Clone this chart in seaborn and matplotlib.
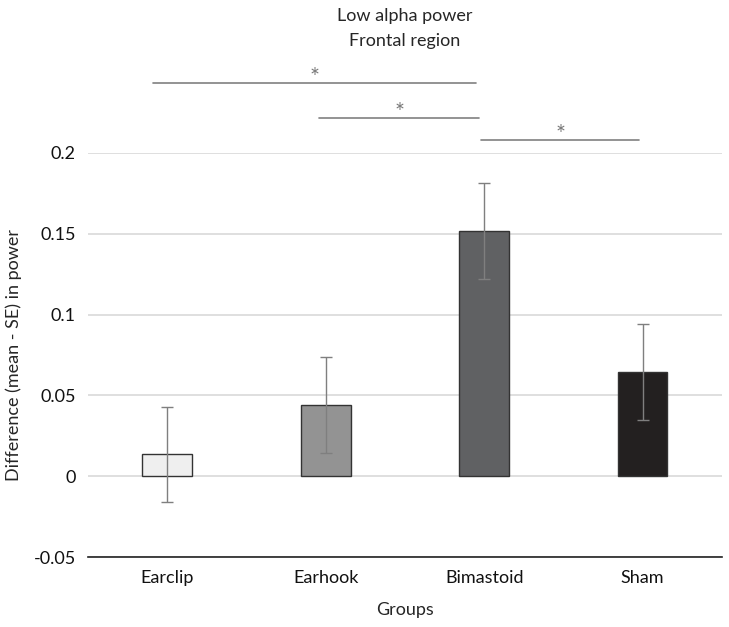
import matplotlib
matplotlib.use("Agg")
import matplotlib.pyplot as plt
import seaborn as sns
import pandas as pd

groups = ["Earclip", "Earhook", "Bimastoid", "Sham"]
means = [0.0135, 0.044, 0.152, 0.0645]
se = [0.0295, 0.0297, 0.0297, 0.0297]
colors = ["#efefef", "#939393", "#606163", "#231f20"]

# significance brackets: (from, to, height)
sig_from = [-0.09, 0.96, 1.98]
sig_to = [1.95, 1.97, 2.98]
sig_y = [0.2433, 0.2217, 0.2080]

sns.set_style("white")
plt.rcParams["font.family"] = ["Lato", "DejaVu Sans"]

df = pd.DataFrame({"group": groups, "mean": means})

fig = plt.figure(figsize=(7.29, 6.27), dpi=100)
ax = fig.add_axes([0.121, 0.1116, 0.869, 0.6445])

sns.barplot(data=df, x="group", y="mean", hue="group", palette=colors,
            width=0.315, edgecolor="#333333", linewidth=1.0, legend=False,
            ax=ax, zorder=3)
ax.errorbar(range(len(groups)), means, yerr=se, fmt="none",
            ecolor="#7f7f7f", elinewidth=1.0, capsize=4, capthick=1.0,
            zorder=4)

ax.set_ylim(-0.05, 0.2)
ax.set_xlim(-0.5, 3.5)
ax.set_yticks([-0.05, 0, 0.05, 0.1, 0.15, 0.2])
ax.set_yticklabels(["-0.05", "0", "0.05", "0.1", "0.15", "0.2"])
ax.yaxis.grid(True, color="#d9d9d9", linewidth=1.2, zorder=0)
ax.set_axisbelow(True)
for s in ["left", "right", "top"]:
    ax.spines[s].set_visible(False)
ax.spines["bottom"].set_color("#222222")
ax.spines["bottom"].set_linewidth(1.2)
ax.tick_params(axis="both", length=0, labelsize=13, colors="#111111", pad=9)

ax.set_xlabel("Groups", fontsize=13, labelpad=12)
ax.set_ylabel("Difference (mean - SE) in power", fontsize=13, labelpad=8)

for x0, x1, y in zip(sig_from, sig_to, sig_y):
    ax.plot([x0, x1], [y, y], color="#808080", linewidth=1.2, clip_on=False)
    ax.text((x0 + x1) / 2, y + 0.0035, "*", ha="center", va="center",
            fontsize=17, color="#777777", clip_on=False)

fig.text(0.555, 0.988, "Low alpha power\nFrontal region", ha="center",
         va="top", fontsize=13, linespacing=1.7)

fig.savefig("out.png", dpi=100)
